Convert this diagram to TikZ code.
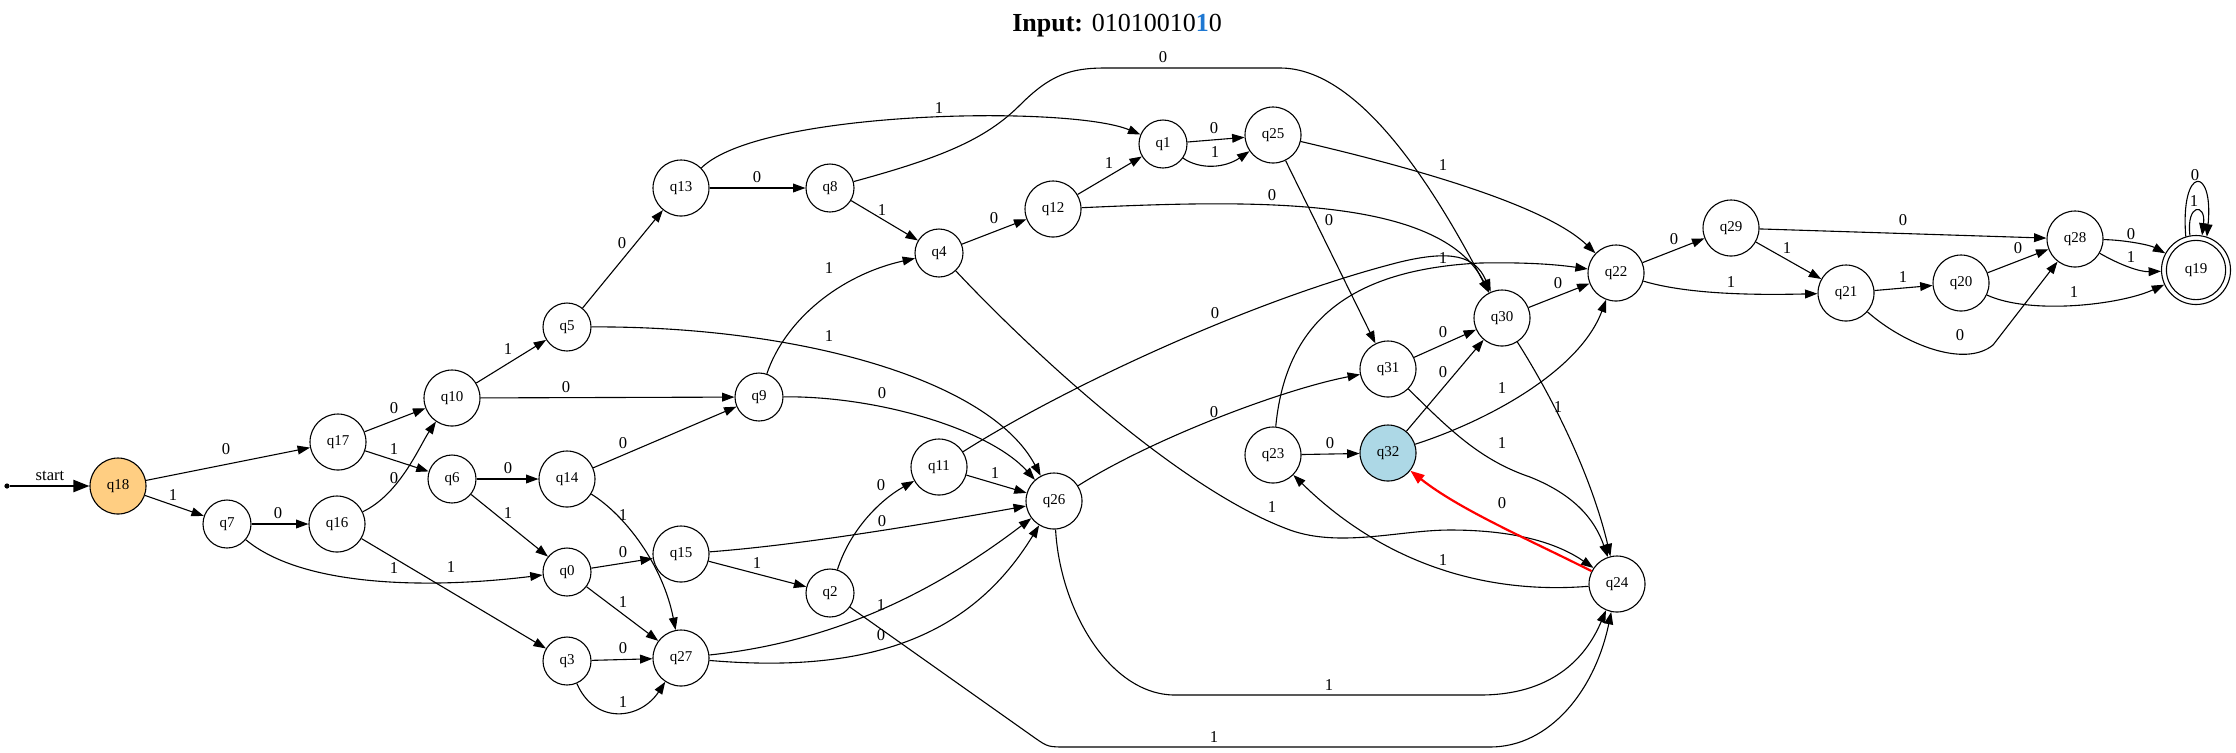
\documentclass[tikz,border=0pt]{standalone}
\usepackage{fontspec}
\setmainfont{Liberation Serif}
\usetikzlibrary{arrows.meta}
\definecolor{initfill}{RGB}{255,206,130}
\definecolor{curfill}{RGB}{173,216,230}
\definecolor{hlblue}{RGB}{30,120,210}
\begin{document}
\begin{tikzpicture}[x=0.5pt,y=-0.5pt,
  st/.style={circle,draw,line width=0.55pt,minimum size=28pt,inner sep=0pt,font=\fontsize{7.5}{9}\selectfont},
  sm/.style={st,minimum size=24pt},
  e/.style={draw,line width=0.55pt,-{Triangle[length=6.2pt,width=4.4pt]}},
  redge/.style={draw=red,line width=1.1pt,-{Triangle[length=7pt,width=5.2pt]}},
  lbl/.style={font=\fontsize{8.3}{9}\selectfont,inner sep=0pt}]
\useasboundingbox (0,0) rectangle (2236,752);

% title
\node[font=\fontsize{13}{15}\selectfont] (title) at (1117,26) {\textbf{Input:} 01010010{\color{hlblue}\textbf{1}}0};

% states
\node[circle,fill,inner sep=0pt,minimum size=2.6pt] (s0) at (7,486) {};
\node[st,fill=initfill] (q18) at (118,486) {q18};
\node[st] (q17) at (338,442) {q17};
\node[sm] (q7) at (227,524) {q7};
\node[st] (q16) at (337,524) {q16};
\node[st] (q10) at (452,398) {q10};
\node[sm] (q6) at (452,479) {q6};
\node[st] (q14) at (567,479) {q14};
\node[sm] (q0) at (567,572) {q0};
\node[st] (q15) at (681,554) {q15};
\node[sm] (q3) at (567,661) {q3};
\node[st] (q27) at (681,658) {q27};
\node[sm] (q5) at (567,327) {q5};
\node[st] (q13) at (681,188) {q13};
\node[sm] (q9) at (759,397) {q9};
\node[sm] (q8) at (830,188) {q8};
\node[sm] (q4) at (939,253) {q4};
\node[st] (q12) at (1053,209) {q12};
\node[sm] (q1) at (1163,144) {q1};
\node[st] (q25) at (1273,135) {q25};
\node[st] (q11) at (939,467) {q11};
\node[st] (q26) at (1054,501) {q26};
\node[sm] (q2) at (830,593) {q2};
\node[st] (q23) at (1273,455) {q23};
\node[st,fill=curfill] (q32) at (1388,453) {q32};
\node[st] (q31) at (1388,369) {q31};
\node[st] (q30) at (1502,318) {q30};
\node[st] (q22) at (1616,273) {q22};
\node[st] (q29) at (1731,228) {q29};
\node[st] (q21) at (1846,293) {q21};
\node[st] (q20) at (1961,283) {q20};
\node[st] (q28) at (2075,239) {q28};
\node[st] (q24) at (1617,584) {q24};
\node[st,minimum size=34.5pt] (q19) at (2196,270) {q19};
\draw[line width=0.55pt] (q19.center) circle[radius=14.8pt];

% start
\draw[line width=1.05pt,-{Triangle[length=8pt,width=6pt]}] (s0) -- (q18);
\node[lbl] (ls) at (50,476) {start};

% edges
\draw[e] (q18) -- (q17); \node[lbl] (l1) at (226,449) {0};
\draw[e] (q18) -- (q7); \node[lbl] (l2) at (173,495) {1};
\draw[e] (q17) -- (q10); \node[lbl] (l3) at (394,408) {0};
\draw[e] (q17) -- (q6); \node[lbl] (l4) at (394,449) {1};
\draw[e] (q7) -- (q16); \node[lbl] (l5) at (278,513) {0};
\draw[e] (q7) .. controls (300,585) and (420,590) .. (q0); \node[lbl] (l6) at (394,568) {1};
\draw[e] (q16) .. controls (400,494) and (420,445) .. (q10); \node[lbl] (l7) at (394,478) {0};
\draw[e] (q16) -- (q3); \node[lbl] (l8) at (451,567) {1};
\draw[e] (q10) -- (q5); \node[lbl] (l9) at (508,349) {1};
\draw[e] (q10) -- (q9); \node[lbl] (l10) at (566,387) {0};
\draw[e] (q6) -- (q14); \node[lbl] (l11) at (508,468) {0};
\draw[e] (q6) -- (q0); \node[lbl] (l12) at (508,513) {1};
\draw[e] (q14) -- (q9); \node[lbl] (l13) at (623,443) {0};
\draw[e] (q14) .. controls (625,515) and (663,565) .. (q27); \node[lbl] (l14) at (623,515) {1};
\draw[e] (q0) -- (q15); \node[lbl] (l15) at (623,552) {0};
\draw[e] (q0) -- (q27); \node[lbl] (l16) at (623,602) {1};
\draw[e] (q3) -- (q27); \node[lbl] (l17) at (623,648) {0};
\draw[e] (q3) .. controls (595,725) and (640,720) .. (q27); \node[lbl] (l18) at (623,702) {1};
\draw[e] (q5) -- (q13); \node[lbl] (l19) at (622,243) {0};
\draw[e] (q5) .. controls (800,326) and (990,380) .. (q26); \node[lbl] (l20) at (829,336) {1};
\draw[e] (q13) -- (q8); \node[lbl] (l21) at (757,177) {0};
\draw[e] (q13) .. controls (760,110) and (1070,105) .. (q1); \node[lbl] (l22) at (939,108) {1};
\draw[e] (q8) -- (q4); \node[lbl] (l23) at (882,210) {1};
\draw[e] (q8) .. controls (940,158) and (985,140) .. (1020,105) .. controls (1050,75) and (1070,68) .. (1105,68) -- (1280,68) .. controls (1350,68) and (1420,160) .. (q30); \node[lbl] (l24) at (1163,57) {0};
\draw[e] (q9) .. controls (785,320) and (840,275) .. (q4); \node[lbl] (l25) at (829,268) {1};
\draw[e] (q9) .. controls (880,396) and (990,430) .. (q26); \node[lbl] (l26) at (882,393) {0};
\draw[e] (q4) -- (q12); \node[lbl] (l27) at (994,218) {0};
\draw[e] (q4) .. controls (1030,350) and (1180,490) .. (1290,530) .. controls (1340,548) and (1400,530) .. (1450,530) .. controls (1520,530) and (1560,545) .. (q24); \node[lbl] (l28) at (1272,507) {1};
\draw[e] (q12) -- (q1); \node[lbl] (l29) at (1109,163) {1};
\draw[e] (q12) .. controls (1250,200) and (1440,195) .. (q30); \node[lbl] (l30) at (1272,195) {0};
\draw[e] (q1) -- (q25); \node[lbl] (l31) at (1214,128) {0};
\draw[e] (q1) .. controls (1200,170) and (1225,168) .. (q25); \node[lbl] (l32) at (1215,152) {1};
\draw[e] (q25) .. controls (1380,160) and (1540,200) .. (q22); \node[lbl] (l33) at (1443,165) {1};
\draw[e] (q25) -- (q31); \node[lbl] (l34) at (1329,220) {0};
\draw[e] (q15) .. controls (800,545) and (920,525) .. (q26); \node[lbl] (l35) at (882,521) {0};
\draw[e] (q15) -- (q2); \node[lbl] (l36) at (757,563) {1};
\draw[e] (q27) .. controls (850,640) and (950,580) .. (q26); \node[lbl] (l37) at (881,605) {1};
\draw[e] (q27) .. controls (880,675) and (975,630) .. (q26); \node[lbl] (l38) at (881,635) {0};
\draw[e] (q2) .. controls (850,530) and (880,500) .. (q11); \node[lbl] (l39) at (881,485) {0};
\draw[e] (q2) -- (1035,738) .. controls (1048,747) .. (1068,747) -- (1490,747) .. controls (1550,747) and (1595,690) .. (q24); \node[lbl] (l40) at (1214,737) {1};
\draw[e] (q11) -- (q26); \node[lbl] (l41) at (995,473) {1};
\draw[e] (q11) .. controls (1060,390) and (1250,300) .. (1400,262) .. controls (1450,250) and (1475,255) .. (q30); \node[lbl] (l42) at (1215,313) {0};
\draw[e] (q26) .. controls (1150,440) and (1280,390) .. (q31); \node[lbl] (l43) at (1214,412) {0};
\draw[e] (q26) .. controls (1060,610) and (1110,695) .. (1175,695) -- (1480,695) .. controls (1550,695) and (1585,660) .. (q24); \node[lbl] (l44) at (1329,685) {1};
\draw[e] (q23) -- (q32); \node[lbl] (l45) at (1330,443) {0};
\draw[e] (q23) .. controls (1285,330) and (1340,270) .. (1480,263) .. controls (1530,262) and (1560,265) .. (q22); \node[lbl] (l46) at (1443,258) {1};
\draw[e] (q32) -- (q30); \node[lbl] (l47) at (1443,372) {0};
\draw[e] (q32) .. controls (1490,420) and (1580,370) .. (q22); \node[lbl] (l48) at (1502,388) {1};
\draw[e] (q31) -- (q30); \node[lbl] (l49) at (1443,332) {0};
\draw[e] (q31) .. controls (1450,430) and (1480,460) .. (1530,477) .. controls (1575,495) and (1595,520) .. (q24); \node[lbl] (l50) at (1502,443) {1};
\draw[e] (q30) -- (q22); \node[lbl] (l51) at (1558,283) {0};
\draw[e] (q30) .. controls (1548,390) and (1590,470) .. (q24); \node[lbl] (l52) at (1558,407) {1};
\draw[redge] (q24) .. controls (1530,540) and (1460,510) .. (q32); \node[lbl] (l53) at (1502,503) {0};
\draw[e] (q24) .. controls (1480,595) and (1380,560) .. (q23); \node[lbl] (l54) at (1443,560) {1};
\draw[e] (q22) -- (q29); \node[lbl] (l55) at (1674,239) {0};
\draw[e] (q22) .. controls (1690,295) and (1760,295) .. (q21); \node[lbl] (l56) at (1731,282) {1};
\draw[e] (q29) -- (q28); \node[lbl] (l57) at (1903,220) {0};
\draw[e] (q29) -- (q21); \node[lbl] (l58) at (1787,248) {1};
\draw[e] (q21) -- (q20); \node[lbl] (l59) at (1903,277) {1};
\draw[e] (q21) .. controls (1905,345) and (1965,368) .. (1993,345) -- (q28); \node[lbl] (l60) at (1960,335) {0};
\draw[e] (q20) -- (q28); \node[lbl] (l61) at (2018,248) {0};
\draw[e] (q20) .. controls (2030,315) and (2120,305) .. (q19); \node[lbl] (l62) at (2074,292) {1};
\draw[e] (q28) .. controls (2125,240) and (2150,245) .. (q19); \node[lbl] (l63) at (2131,234) {0};
\draw[e] (q28) .. controls (2120,265) and (2140,272) .. (q19); \node[lbl] (l64) at (2131,257) {1};
\draw[e] (q19.107) .. controls (2180,165) and (2214,165) .. (q19.72); \node[lbl] (l65) at (2195,175) {0};
\draw[e] (q19.100) .. controls (2186,203) and (2206,203) .. (q19.80); \node[lbl] (l66) at (2194,201) {1};
\end{tikzpicture}
\end{document}
